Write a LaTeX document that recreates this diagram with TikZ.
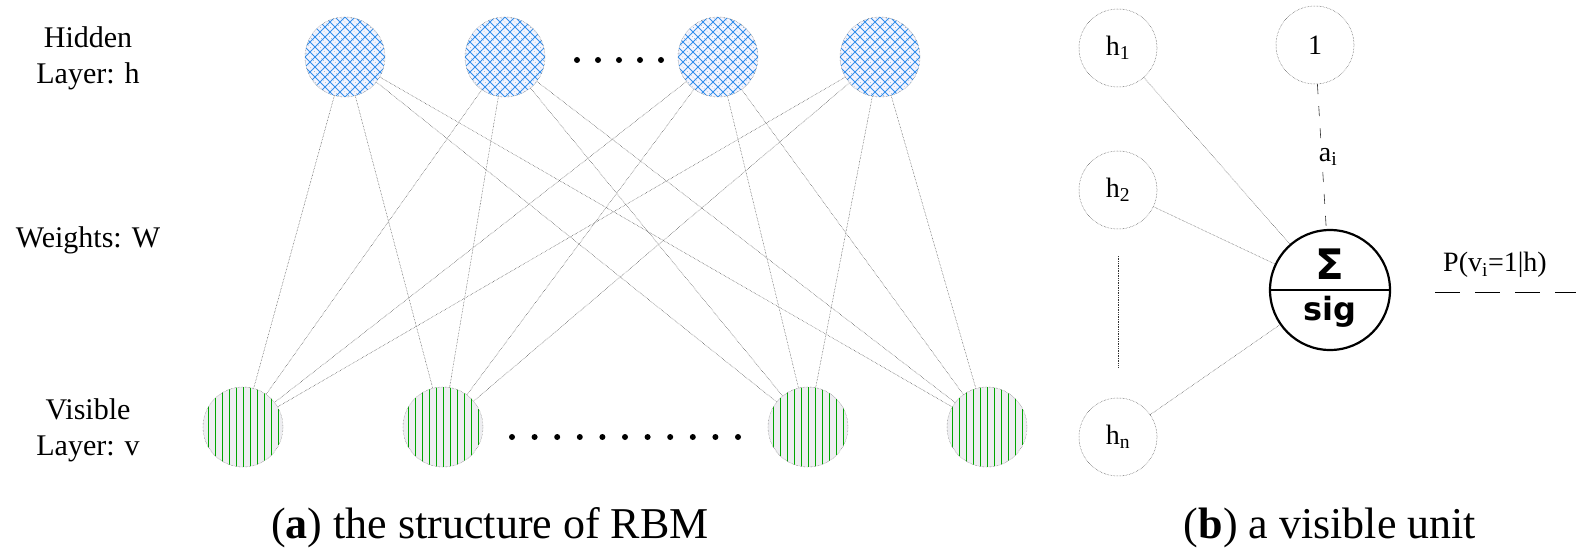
\documentclass[tikz,border=0pt]{standalone}
\usepackage{fontspec}
\setmainfont{Liberation Serif}
\newfontfamily\sansb{DejaVu Sans}
\begin{document}
\begin{tikzpicture}[x=1pt,y=-1pt,
  edge/.style={draw=black!75,densely dotted,line width=0.5pt},
  lbl/.style={font=\fontsize{30}{36}\selectfont,align=center},
  hnode/.style={circle,minimum size=80pt,inner sep=0pt,draw=black!70,densely dotted},
  unode/.style={circle,minimum size=78pt,inner sep=0pt,draw=black!70,densely dotted,line width=0.5pt,font=\fontsize{28}{30}\selectfont},
  dot/.style={circle,fill=black,inner sep=0pt,minimum size=6pt}]
\useasboundingbox (0,0) rectangle (1576,559);
% hidden
\foreach \n/\x in {h1/345,h2/505,h3/718,h4/880}{
  \begin{scope}
    \clip (\x,57) circle (40);
    \fill[blue!4] (\x,57) circle (40);
    \foreach \d in {-100,-90,...,100}{
      \draw[blue!50!cyan!90!black!80,line width=1pt] (\x+\d-50,7) -- (\x+\d+50,107);
      \draw[blue!50!cyan!90!black!80,line width=1pt] (\x+\d+50,7) -- (\x+\d-50,107);
    }
    \foreach \d in {-100,-90,...,100}{
      \draw[blue!40!cyan!70!black!60,line width=0.6pt,dotted] (\x+\d-45,7) -- (\x+\d+55,107);
    }
  \end{scope}
  \node[hnode] (\n) at (\x,57) {};
}
% visible
\foreach \n/\x in {v1/243,v2/443,v3/808,v4/987}{
  \begin{scope}
    \clip (\x,427) circle (40);
    \fill[blue!10!gray!12] (\x,427) circle (40);
    \foreach \d in {-35,-28,...,35}{
      \draw[green!65!black,line width=1pt] (\x+\d,385) -- (\x+\d,470);
    }
  \end{scope}
  \node[hnode] (\n) at (\x,427) {};
}
\foreach \a in {h1,h2,h3,h4}{\foreach \b in {v1,v2,v3,v4}{\draw[edge] (\a) -- (\b);}}
\foreach \i in {0,...,4}{\node[dot] (hd\i) at (577+21*\i,60) {};}
\foreach \i in {0,...,10}{\node[dot] (vd\i) at (512+22.6*\i,437) {};}
\node[lbl] (lh) at (88,58) {Hidden\\Layer: h};
\node[lbl] (lw) at (88,240) {Weights: W};
\node[lbl] (lv) at (88,430) {Visible\\Layer: v};
\node[font=\fontsize{44}{48}\selectfont] (ca) at (490,528) {(\textbf{a}) the structure of RBM};
% right
\node[unode] (r1) at (1118,48) {h\textsubscript{1}};
\node[unode] (r0) at (1315,45) {1};
\node[unode] (r2) at (1118,190) {h\textsubscript{2}};
\node[unode] (rn) at (1118,437) {h\textsubscript{n}};
\node[circle,draw,line width=2.2pt,minimum size=120pt,inner sep=0pt] (s) at (1330,290) {};
\draw[line width=2pt] (s.west) -- (s.east);
\node[font=\sansb\bfseries\fontsize{42}{42}\selectfont] (sig1) at (1330,264) {Σ};
\node[font=\sansb\bfseries\fontsize{32}{32}\selectfont] (sig2) at (1330,312) {sig};
\draw[edge] (r1) -- (s);
\draw[edge] (r2) -- (s);
\draw[edge] (rn) -- (s);
\draw[draw=black!80,dash pattern=on 10pt off 12pt,line width=0.6pt] (r0) -- (s);
\node[fill=white,font=\fontsize{28}{30}\selectfont,inner sep=2pt] (ai) at (1328,157) {a\textsubscript{i}};
\coordinate (d1) at (1118,256);
\coordinate (d2) at (1118,368);
\draw[black!80,densely dotted,line width=0.7pt] (d1) -- (d2);
\node[font=\fontsize{28}{30}\selectfont] (p) at (1495,265) {P(v\textsubscript{i}=1|h)};
\coordinate (o1) at (1435,292);
\coordinate (o2) at (1576,292);
\draw[dash pattern=on 25pt off 15pt,line width=0.6pt] (o1) -- (o2);
\node[font=\fontsize{44}{48}\selectfont] (cb) at (1330,528) {(\textbf{b}) a visible unit};
\end{tikzpicture}
\end{document}
